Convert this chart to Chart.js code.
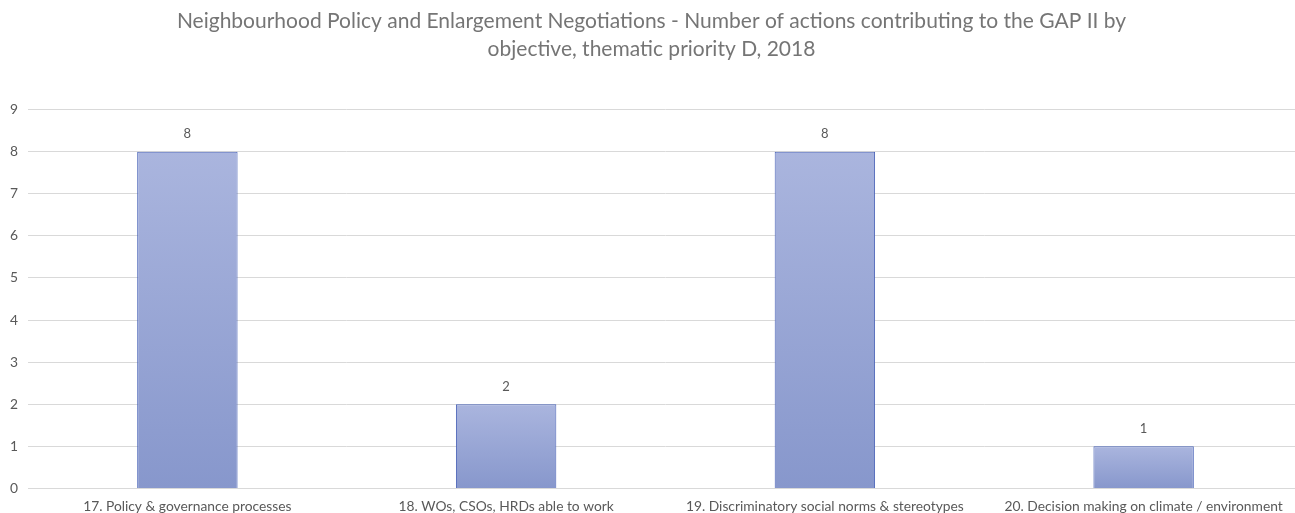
<!DOCTYPE html>
<html>
<head>
<meta charset="utf-8">
<script src="https://cdn.jsdelivr.net/npm/chart.js@4"></script>
<style>
  html, body { margin: 0; padding: 0; background: #fff; overflow: hidden; }
  #wrap { width: 1295px; height: 513px; overflow: hidden; }
  #wrap div { width: 1303px; height: 513px; }
</style>
</head>
<body>
<div id="wrap"><div><canvas id="chart"></canvas></div></div>
<script>
const objectives = [
  "17. Policy & governance processes",
  "18. WOs, CSOs, HRDs able to work",
  "19. Discriminatory social norms & stereotypes",
  "20. Decision making on climate / environment"
];
const actions = [8, 2, 8, 1];
const titleLines = [
  "Neighbourhood Policy and Enlargement Negotiations - Number of actions contributing to the GAP II by",
  "objective, thematic priority D, 2018"
];

// valeurs écrites au-dessus des barres
const valueLabels = {
  id: "valueLabels",
  afterDatasetsDraw(chart) {
    const ctx = chart.ctx;
    const meta = chart.getDatasetMeta(0);
    ctx.save();
    ctx.font = "13px Lato";
    ctx.fillStyle = "#595959";
    ctx.textAlign = "center";
    ctx.textBaseline = "bottom";
    meta.data.forEach((bar, i) => {
      ctx.fillText(actions[i], bar.x, bar.y - 11);
    });
    ctx.restore();
  }
};

function barGradient(context) {
  const chart = context.chart;
  if (!chart.chartArea) return "#97a6d6";
  const y = chart.scales.y;
  const top = y.getPixelForValue(context.raw);
  const base = y.getPixelForValue(0);
  const g = chart.ctx.createLinearGradient(0, top, 0, base);
  g.addColorStop(0, "#aab5de");
  g.addColorStop(1, "#8797cc");
  return g;
}

const ctx = document.getElementById("chart");
const chart = new Chart(ctx, {
  type: "bar",
  data: {
    labels: objectives,
    datasets: [{
      data: actions,
      backgroundColor: barGradient,
      borderColor: "#4a63b8",
      borderWidth: 1,
      barPercentage: 0.63,
      categoryPercentage: 0.5
    }]
  },
  options: {
    responsive: true,
    maintainAspectRatio: false,
    animation: false,
    layout: { padding: { left: 0, right: 0, top: 8, bottom: -12 } },
    plugins: {
      legend: { display: false },
      tooltip: { enabled: false },
      title: {
        display: true,
        text: titleLines,
        color: "#757575",
        font: { family: "Lato", size: 21, weight: "normal", lineHeight: 1.3 },
        padding: { top: 0, bottom: 47 }
      }
    },
    scales: {
      x: {
        grid: { display: false, drawTicks: false },
        border: { color: "#d9d9d9" },
        ticks: {
          color: "#595959",
          font: { family: "Lato", size: 13.8 },
          maxRotation: 0,
          padding: 10
        }
      },
      y: {
        min: 0,
        max: 9,
        grid: { color: "#d9d9d9", drawTicks: false },
        border: { display: false },
        ticks: {
          stepSize: 1,
          color: "#595959",
          font: { family: "Lato", size: 13.8 },
          padding: 10
        }
      }
    }
  },
  plugins: [valueLabels]
});
</script>
</body>
</html>
